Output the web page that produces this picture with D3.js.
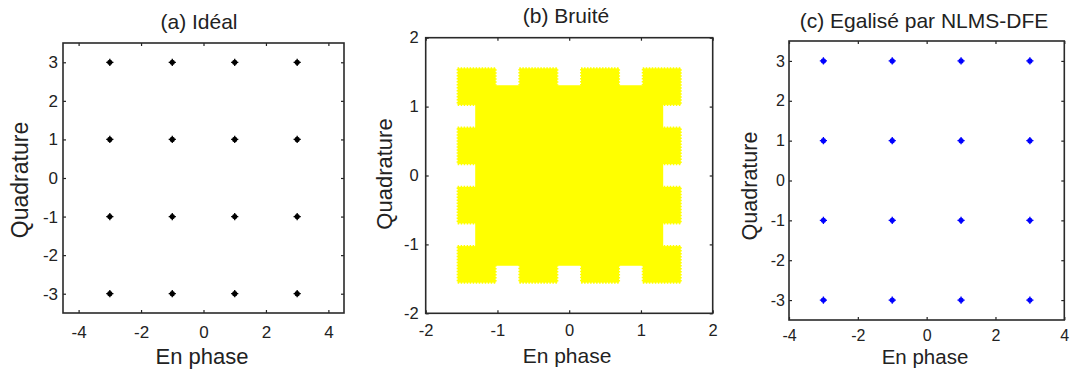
<!DOCTYPE html>
<html>
<head>
<meta charset="utf-8">
<script src="https://cdn.jsdelivr.net/npm/d3@7"></script>
<style>
  body { margin: 0; background: #fff; }
  text { font-family: "Liberation Sans", Arial, sans-serif; fill: #222; }
</style>
</head>
<body>
<svg id="chart" width="1071" height="376"></svg>
<script>
// 16-QAM levels (I and Q)
const levels = [-3, -1, 1, 3]
const idealPoints = d3.cross(levels, levels)
const equalizedPoints = d3.cross(levels, levels)

// noisy received signal
const noisyScale = 0.43      // cluster centre = level * scale
const noisySpread = 0.265    // half width of each cluster
const noisyCore = 1.31       // half width of the filled centre

const ticksA = { x: [-4, -2, 0, 2, 4], y: [-3, -2, -1, 0, 1, 2, 3] }
const ticksB = { x: [-2, -1, 0, 1, 2], y: [-2, -1, 0, 1, 2] }
const ticksC = { x: [-4, -2, 0, 2, 4], y: [-3, -2, -1, 0, 1, 2, 3] }

const svg = d3.select("#chart")

// panel layout
const panels = [
  { title: "(a) Idéal", box: [63, 43, 344, 313], xd: [-4.5, 4.5], yd: [-3.5, 3.5], ticks: ticksA,
    tickFont: 17, xPad: 13, yPad: 5, titleX: 199, titleY: 29, xlab: [202, 364, 22], ylab: [28, 180, 23] },
  { title: "(b) Bruité", box: [425.7, 37.7, 712.7, 313.3], xd: [-2, 2], yd: [-2, 2], ticks: ticksB,
    tickFont: 16.5, xPad: 11, yPad: 7, titleX: 566, titleY: 23, xlab: [567, 363, 21], ylab: [392, 174, 22] },
  { title: "(c) Egalisé par NLMS-DFE", box: [789, 41, 1064.3, 320], xd: [-4, 4], yd: [-3.5, 3.5], ticks: ticksC,
    tickFont: 16, xPad: 9.5, yPad: 4, titleX: 924, titleY: 28, xlab: [925, 364, 20.5], ylab: [757, 186, 21.5] }
]

function drawPanel(p) {
  let [x0, y0, x1, y1] = p.box
  let x = d3.scaleLinear().domain(p.xd).range([x0, x1])
  let y = d3.scaleLinear().domain(p.yd).range([y1, y0])
  let g = svg.append("g")
  let plot = g.append("g")
  let fmt = (d) => String(d)

  // axes, ticks pointing inward on all four sides
  let bottom = g.append("g").attr("transform", `translate(0,${y1})`)
    .call(d3.axisBottom(x).tickValues(p.ticks.x).tickFormat(fmt).tickSizeInner(-3).tickSizeOuter(0).tickPadding(p.xPad))
  let top = g.append("g").attr("transform", `translate(0,${y0})`)
    .call(d3.axisTop(x).tickValues(p.ticks.x).tickSizeInner(-3).tickSizeOuter(0).tickFormat(""))
  let left = g.append("g").attr("transform", `translate(${x0},0)`)
    .call(d3.axisLeft(y).tickValues(p.ticks.y).tickFormat(fmt).tickSizeInner(-3).tickSizeOuter(0).tickPadding(p.yPad))
  let right = g.append("g").attr("transform", `translate(${x1},0)`)
    .call(d3.axisRight(y).tickValues(p.ticks.y).tickSizeInner(-3).tickSizeOuter(0).tickFormat(""))

  for (let a of [bottom, top, left, right]) {
    a.select(".domain").remove()
    a.selectAll(".tick line").attr("stroke", "#222").attr("stroke-width", 1.2)
    a.selectAll("text").attr("font-size", p.tickFont).attr("font-family", null).attr("fill", "#222")
  }

  g.append("rect")
    .attr("x", x0).attr("y", y0)
    .attr("width", x1 - x0).attr("height", y1 - y0)
    .attr("fill", "none").attr("stroke", "#2a2a2a").attr("stroke-width", 1.6)

  g.append("text")
    .attr("x", p.titleX).attr("y", p.titleY)
    .attr("text-anchor", "middle").attr("font-size", 21)
    .text(p.title)
  g.append("text")
    .attr("x", p.xlab[0]).attr("y", p.xlab[1])
    .attr("text-anchor", "middle").attr("font-size", p.xlab[2])
    .text("En phase")
  g.append("text")
    .attr("transform", `translate(${p.ylab[0]},${p.ylab[1]}) rotate(-90)`)
    .attr("text-anchor", "middle").attr("font-size", p.ylab[2])
    .text("Quadrature")

  return { plot, x, y }
}

function drawConstellation(panel, points, color) {
  let pts = panel.plot.selectAll("g.pt").data(points).join("g")
    .attr("class", "pt")
    .attr("transform", (d) => `translate(${panel.x(d[0])},${panel.y(d[1])})`)
  pts.append("circle").attr("r", 2.6).attr("fill", color)
  pts.append("path")
    .attr("d", "M-3.6,0H3.6M0,-3.6V3.6")
    .attr("stroke", color).attr("stroke-width", 1.3)
}

let pa = drawPanel(panels[0])
drawConstellation(pa, idealPoints, "#000")

let pb = drawPanel(panels[1])
// filled centre
pb.plot.append("rect")
  .attr("x", pb.x(-noisyCore)).attr("y", pb.y(noisyCore))
  .attr("width", pb.x(noisyCore) - pb.x(-noisyCore))
  .attr("height", pb.y(-noisyCore) - pb.y(noisyCore))
  .attr("fill", "#ffff00")
// one cluster per constellation point
pb.plot.selectAll("rect.cluster").data(idealPoints).join("rect")
  .attr("class", "cluster")
  .attr("x", (d) => pb.x(d[0] * noisyScale - noisySpread))
  .attr("y", (d) => pb.y(d[1] * noisyScale + noisySpread))
  .attr("width", (d) => pb.x(d[0] * noisyScale + noisySpread) - pb.x(d[0] * noisyScale - noisySpread))
  .attr("height", (d) => pb.y(d[1] * noisyScale - noisySpread) - pb.y(d[1] * noisyScale + noisySpread))
  .attr("fill", "#ffff00")
  .attr("stroke", "#ffff00")
  .attr("stroke-width", 2)
  .attr("stroke-dasharray", "1.5 1.5")

let pc = drawPanel(panels[2])
drawConstellation(pc, equalizedPoints, "#0000ff")
</script>
</body>
</html>
